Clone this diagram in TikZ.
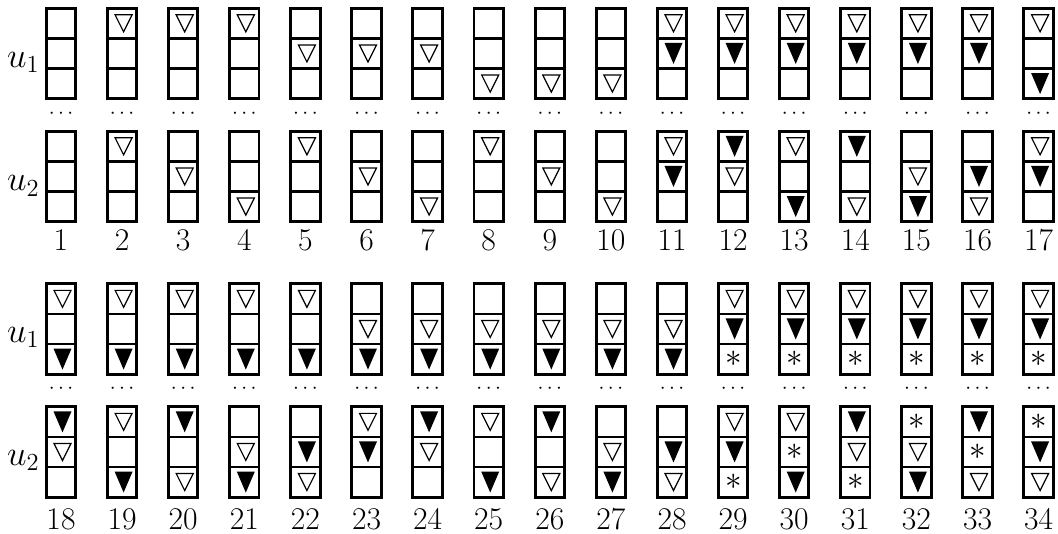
\RequirePackage{fix-cm}
\documentclass[tikz,border=0pt]{standalone}
\begin{document}
\newcommand\mysym[3]{%
  \if#3o\draw[opentri] (#1+1.5-8.5,#2-8.5) -- (#1+1.5+8.5,#2-8.5) -- (#1+1.5,#2+8.5) -- cycle;\fi
  \if#3f\fill[filltri] (#1+1.5-9,#2-10.5) -- (#1+1.5+9,#2-10.5) -- (#1+1.5,#2+10.5) -- cycle;\fi
  \if#3s\node[starlabel] at (#1+0.5,#2) {$\ast$};\fi
}
\newcommand\mystack[5]{%
  \draw[cellbox] (#1,#2) rectangle ++(29.4,90.3);
  \draw[divline] (#1,#2+30.1) -- ++(29.4,0) (#1,#2+60.2) -- ++(29.4,0);
  \mysym{#1+14.7}{#2+15.05}{#3}
  \mysym{#1+14.7}{#2+45.15}{#4}
  \mysym{#1+14.7}{#2+75.25}{#5}
}
\begin{tikzpicture}[x=0.5pt,y=-0.5pt,
  cellbox/.style={line width=1.45pt},
  divline/.style={line width=1.2pt},
  opentri/.style={line width=0.6pt, line join=miter},
  filltri/.style={fill=black},
  numlabel/.style={anchor=base, inner sep=0pt, font=\fontsize{15.8}{18}\selectfont},
  ulabel/.style={anchor=base east, inner sep=0pt, font=\fontsize{17.5}{20}\selectfont},
  dotlabel/.style={anchor=base, inner sep=0pt, font=\fontsize{10.5}{12}\selectfont},
  starlabel/.style={inner sep=0pt, font=\fontsize{16.5}{18}\selectfont}]
\useasboundingbox (0,0) rectangle (1058,534);
% row 1
\node[ulabel] (ua1) at (40,67.5) {$u_1$};
\node[ulabel] (ub1) at (40,191) {$u_2$};
\foreach[count=\i from 0] \nn/\ua/\ub/\uc/\va/\vb/\vc in {
 1/0/0/0/0/0/0, 2/o/0/0/o/0/0, 3/o/0/0/0/o/0, 4/o/0/0/0/0/o,
 5/0/o/0/o/0/0, 6/0/o/0/0/o/0, 7/0/o/0/0/0/o, 8/0/0/o/o/0/0,
 9/0/0/o/0/o/0, 10/0/0/o/0/0/o, 11/o/f/0/o/f/0, 12/o/f/0/f/o/0,
 13/o/f/0/o/0/f, 14/o/f/0/f/0/o, 15/o/f/0/0/o/f, 16/o/f/0/0/f/o,
 17/o/0/f/o/f/0}{
  \pgfmathsetmacro\xl{46.3+61.1*\i}
  \mystack{\xl}{8.3}{\ua}{\ub}{\uc}
  \mystack{\xl}{131.3}{\va}{\vb}{\vc}
  \node[dotlabel] (d\nn) at (\xl+14.7,118.3) {$\cdots$};
  \node[numlabel] (n\nn) at (\xl+14.7,250) {\nn};
}
% row 2
\node[ulabel] (ua2) at (40,342) {$u_1$};
\node[ulabel] (ub2) at (40,465) {$u_2$};
\foreach[count=\i from 0] \nn/\ua/\ub/\uc/\va/\vb/\vc in {
 18/o/0/f/f/o/0, 19/o/0/f/o/0/f, 20/o/0/f/f/0/o, 21/o/0/f/0/o/f,
 22/o/0/f/0/f/o, 23/0/o/f/o/f/0, 24/0/o/f/f/o/0, 25/0/o/f/o/0/f,
 26/0/o/f/f/0/o, 27/0/o/f/0/o/f, 28/0/o/f/0/f/o, 29/o/f/s/o/f/s,
 30/o/f/s/o/s/f, 31/o/f/s/f/o/s, 32/o/f/s/s/o/f, 33/o/f/s/f/s/o,
 34/o/f/s/s/f/o}{
  \pgfmathsetmacro\xl{46.3+61.1*\i}
  \mystack{\xl}{283.8}{\ua}{\ub}{\uc}
  \mystack{\xl}{406.8}{\va}{\vb}{\vc}
  \node[dotlabel] (d\nn) at (\xl+14.7,393) {$\cdots$};
  \node[numlabel] (n\nn) at (\xl+14.7,529) {\nn};
}
\end{tikzpicture}
\end{document}
